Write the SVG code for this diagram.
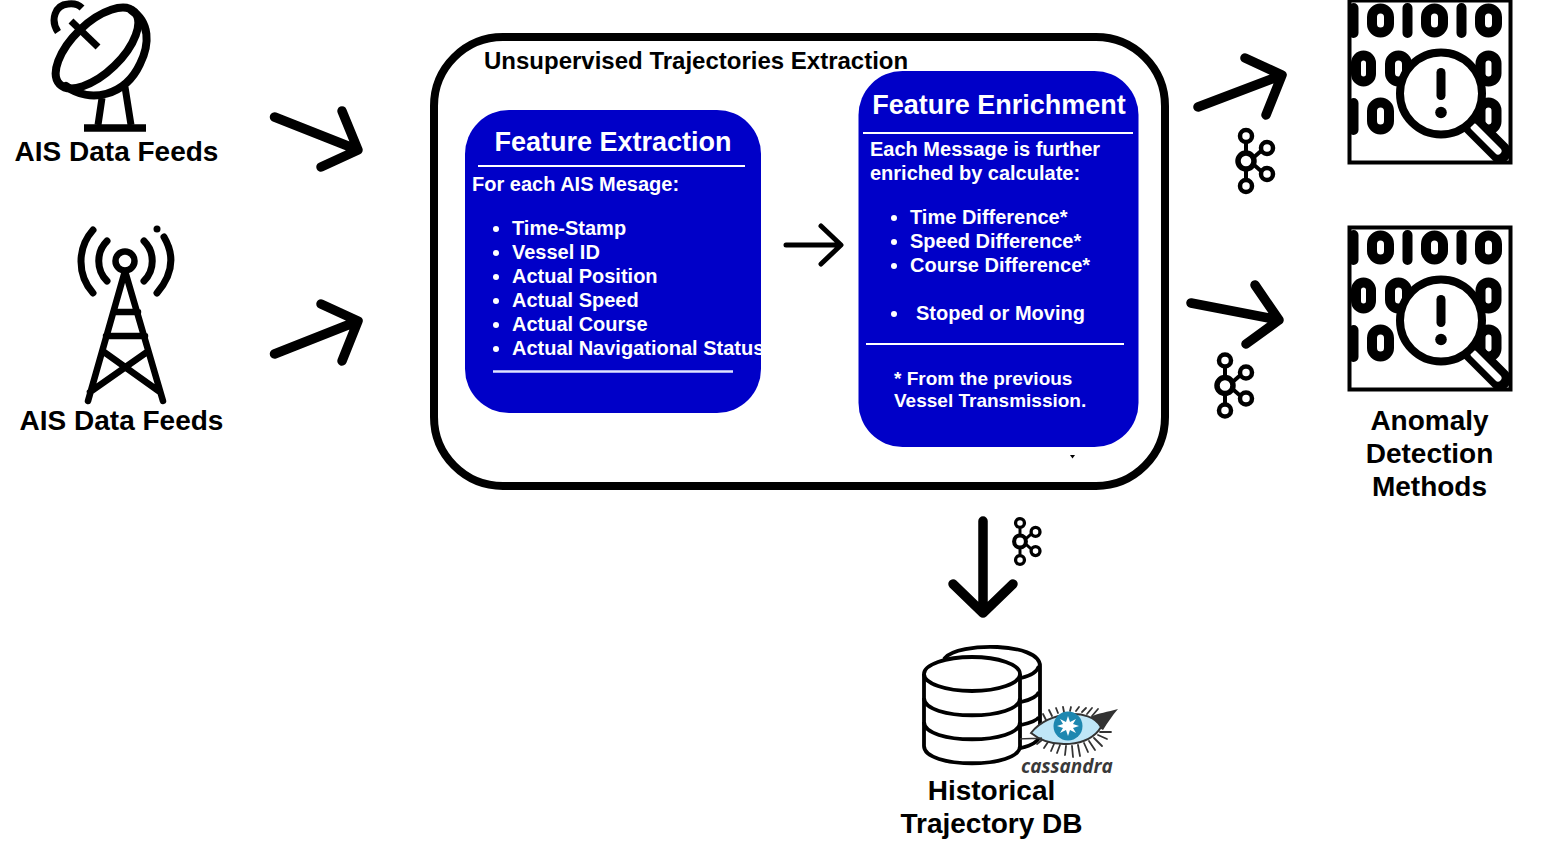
<svg xmlns="http://www.w3.org/2000/svg" width="1545" height="847" viewBox="0 0 1545 847">
<style>
text{font-family:"Liberation Sans",Arial,sans-serif;font-weight:700}
.lbl{font-size:28px;fill:#000;text-anchor:middle}
.w{font-size:20px;fill:#fff}
.h{font-size:27px;fill:#fff;text-anchor:middle}
.ln{fill:none;stroke:#000;stroke-linecap:round;stroke-linejoin:round}
.k{fill:none;stroke:#000}
</style>
<defs>
<g id="kafka" class="k">
<path d="M0-18V-8M0 8V18M7-3L15-10M7 3L15 10" stroke-width="4"/>
<circle cx="0" cy="-25" r="6" stroke-width="4.500"/>
<circle cx="0" cy="0" r="8" stroke-width="5.500"/>
<circle cx="0" cy="25" r="6" stroke-width="4.500"/>
<circle cx="21" cy="-13" r="6" stroke-width="4.500"/>
<circle cx="21" cy="13" r="6" stroke-width="4.500"/>
</g>
<clipPath id="bc"><rect x="1351" y="2" width="158" height="159"/></clipPath>
<g id="anom">
<rect x="1349.500" y="0.500" width="161" height="162" fill="#fff" stroke="#000" stroke-width="4"/>
<g clip-path="url(#bc)" fill="none" stroke="#000" stroke-width="10" stroke-linecap="round">
<path d="M1353.500 8V33M1407.500 8V33M1461.500 8V33M1353.500 103V130"/>
<rect x="1372" y="8.500" width="17" height="24" rx="8.500"/>
<rect x="1426" y="8.500" width="17" height="24" rx="8.500"/>
<rect x="1480" y="8.500" width="17" height="24" rx="8.500"/>
<rect x="1356" y="55.500" width="15" height="26" rx="7.500"/>
<rect x="1390" y="55.500" width="17" height="26" rx="8.500"/>
<rect x="1480.500" y="55.500" width="16" height="26" rx="8"/>
<rect x="1372" y="102.500" width="17" height="27" rx="8.500"/>
<rect x="1480.500" y="102.500" width="16" height="27" rx="8"/>
</g>
<g clip-path="url(#bc)">
<path d="M1472 124L1500 152" stroke="#000" stroke-width="22" stroke-linecap="round"/>
<path d="M1474 127L1498 151" stroke="#fff" stroke-width="7" stroke-linecap="round"/>
</g>
<circle cx="1441" cy="93.500" r="41" fill="#fff" stroke="#000" stroke-width="8"/>
<path d="M1441 72.500V95.500" stroke="#000" stroke-width="9" stroke-linecap="round"/>
<circle cx="1441" cy="112.500" r="5.800" fill="#000"/>
</g>
</defs>

<g id="dish" class="ln">
<ellipse cx="0" cy="0" rx="52" ry="25" transform="translate(97 48) rotate(-44)" stroke-width="8"/>
<path d="M66 86C90 104 125 96 140 64C150 44 150 22 131 10" stroke-width="8"/>
<path d="M71 21L98 47" stroke-width="7" stroke-linecap="butt"/>
<path d="M58 32C50 20 55 5 68 4C75 3 79 5 82 8" stroke-width="7" stroke-linecap="butt"/>
<path d="M102 98L98 125M125 87L131 125" stroke-width="7" stroke-linecap="butt"/>
<path d="M84 128H146" stroke-width="7.500" stroke-linecap="butt"/>
<text class="lbl" x="116.500" y="161" stroke="none">AIS Data Feeds</text>
</g>

<g id="tower" class="ln">
<circle cx="125" cy="261" r="9.500" stroke-width="6.500"/>
<path d="M93 230C77 248 77 275 93 293M107 241C96 252 96 270 107 281M144 241C155 252 155 270 144 281M164 237C174 254 174 273 157 293" stroke-width="7"/>
<circle cx="157" cy="229" r="3.500" fill="#000" stroke="none"/>
<path d="M125 271L88 401M125 271L163 401M114 312H138M106 336H145M104 352L160 392M147 352L90 392" stroke-width="6.500"/>
<text class="lbl" x="121.500" y="430" stroke="none">AIS Data Feeds</text>
</g>

<g id="extraction-box">
<rect x="434" y="37" width="731" height="449" rx="69" fill="#fff" stroke="#000" stroke-width="8"/>
<text x="484" y="69" font-size="24">Unsupervised Trajectories Extraction</text>
</g>

<g id="feature-extraction">
<rect x="465" y="110" width="296" height="303" rx="44" fill="#0000c8"/>
<text class="h" x="613" y="151">Feature Extraction</text>
<path d="M478 166H745" stroke="#fff" stroke-width="2"/>
<text class="w" x="472" y="191">For each AIS Mesage:</text>
<g fill="#fff">
<circle cx="496" cy="229" r="3"/><circle cx="496" cy="253" r="3"/><circle cx="496" cy="277" r="3"/><circle cx="496" cy="301" r="3"/><circle cx="496" cy="325" r="3"/><circle cx="496" cy="349" r="3"/>
</g>
<text class="w" x="512" y="235">Time-Stamp</text>
<text class="w" x="512" y="259">Vessel ID</text>
<text class="w" x="512" y="283">Actual Position</text>
<text class="w" x="512" y="307">Actual Speed</text>
<text class="w" x="512" y="331">Actual Course</text>
<text class="w" x="512" y="355">Actual Navigational Status</text>
<path d="M493 371.500H733" stroke="#dfe3ff" stroke-width="2.500"/>
</g>

<g id="feature-enrichment">
<rect x="858.500" y="71" width="280" height="376" rx="44" fill="#0000c8"/>
<text class="h" x="999" y="114">Feature Enrichment</text>
<path d="M863 133H1133" stroke="#fff" stroke-width="2"/>
<text class="w" x="870" y="156">Each Message is further</text>
<text class="w" x="870" y="180">enriched by calculate:</text>
<g fill="#fff">
<circle cx="894" cy="218" r="3"/><circle cx="894" cy="242" r="3"/><circle cx="894" cy="266" r="3"/><circle cx="894" cy="314" r="3"/>
</g>
<text class="w" x="910" y="224">Time Difference*</text>
<text class="w" x="910" y="248">Speed Difference*</text>
<text class="w" x="910" y="272">Course Difference*</text>
<text class="w" x="916" y="320">Stoped or Moving</text>
<path d="M866 344H1124" stroke="#fff" stroke-width="2"/>
<text class="w" x="894" y="385" style="font-size:19px">* From the previous</text>
<text class="w" x="894" y="407" style="font-size:19px">Vessel Transmission.</text>
</g>
<path d="M1070 455H1075L1072.500 458.500Z" fill="#000"/>

<g id="connectors" class="ln">
<path d="M274.500 117L358 150M342 111L358 150L321 167" stroke-width="9.500"/>
<path d="M274.500 354L358 321M321 304L358 321L342 361" stroke-width="9.500"/>
<path d="M786 245H840M821 226L841 245L821 264" stroke-width="5"/>
<path d="M1198 107L1282 75M1245 58L1282 75L1266 115" stroke-width="9.500"/>
<path d="M1191 303L1279 320M1255 285L1279 320L1246 344" stroke-width="9.500"/>
<path d="M983 521V612M953 584L983 613L1013 584" stroke-width="9.500"/>
</g>
<use href="#kafka" x="1246" y="161"/>
<use href="#kafka" x="1225" y="385.500"/>
<g transform="translate(1020 541.500) scale(.74)"><use href="#kafka"/></g>

<g id="anomaly-1"><use href="#anom"/></g>
<g id="anomaly-2">
<use href="#anom" y="227"/>
<text class="lbl" x="1429.500" y="430">Anomaly</text>
<text class="lbl" x="1429.500" y="463">Detection</text>
<text class="lbl" x="1429.500" y="496">Methods</text>
</g>

<g id="historical-db">
<g fill="#fff" stroke="#000" stroke-width="3.800">
<path d="M945 658C958 642 1040 642 1040 666V736C1038 742 1030 746 1021 748Z"/>
<path d="M1021 678C1030 676 1037 672 1039 666M1021 702C1030 700 1037 697 1039 692M1021 725C1030 723 1037 721 1039 717" fill="none"/>
<path d="M924 674V746C924 769 1020 769 1020 746V674"/>
<ellipse cx="972" cy="674" rx="48" ry="17"/>
<path d="M924 698C924 721 1020 721 1020 698M924 722C924 745 1020 745 1020 722" fill="none"/>
</g>
<g id="cassandra-eye">
<path d="M1090 717C1098 713 1108 712 1118 709C1112 716 1108 722 1103 730L1096 726Z" fill="#333"/>
<path fill="none" stroke="#333" stroke-width="1.800" stroke-linecap="round" d="M1046 720L1043 714M1052 716L1049 710M1058 713L1056 708M1064 712L1063 707M1070 711L1071 707M1076 711L1079 707M1082 712L1086 708M1087 714L1092 708M1092 716L1098 709M1100 732L1111 732M1098 735L1107 739M1094 738L1102 746M1089 741L1095 750M1084 743L1088 752M1078 745L1080 756M1072 746L1073 757M1066 746L1065 755M1060 745L1057 753M1054 744L1051 751M1048 742L1044 748M1042 740L1037 744"/>
<path d="M1031 733C1048 711 1090 707 1101 727C1090 747 1052 750 1031 733Z" fill="#bfe6f7" stroke="#333" stroke-width="2"/>
<path d="M1020 739C1028 738 1036 739 1042 738" fill="none" stroke="#333" stroke-width="1.500"/>
<circle cx="1068" cy="726" r="14.500" fill="#1d87b0"/>
<path d="M1068 716L1070 722L1076 719L1073 724L1079 726L1073 728L1076 733L1070 730L1068 736L1066 730L1060 733L1063 728L1057 726L1063 724L1060 719L1066 722Z" fill="#fff"/>
</g>
<text x="1067" y="773" font-size="19" text-anchor="middle" fill="#3a3a3a" style="font-family:'Open Sans',sans-serif;font-style:italic;font-weight:700">cassandra</text>
<text class="lbl" x="991.500" y="800">Historical</text>
<text class="lbl" x="991.500" y="833">Trajectory DB</text>
</g>
</svg>
